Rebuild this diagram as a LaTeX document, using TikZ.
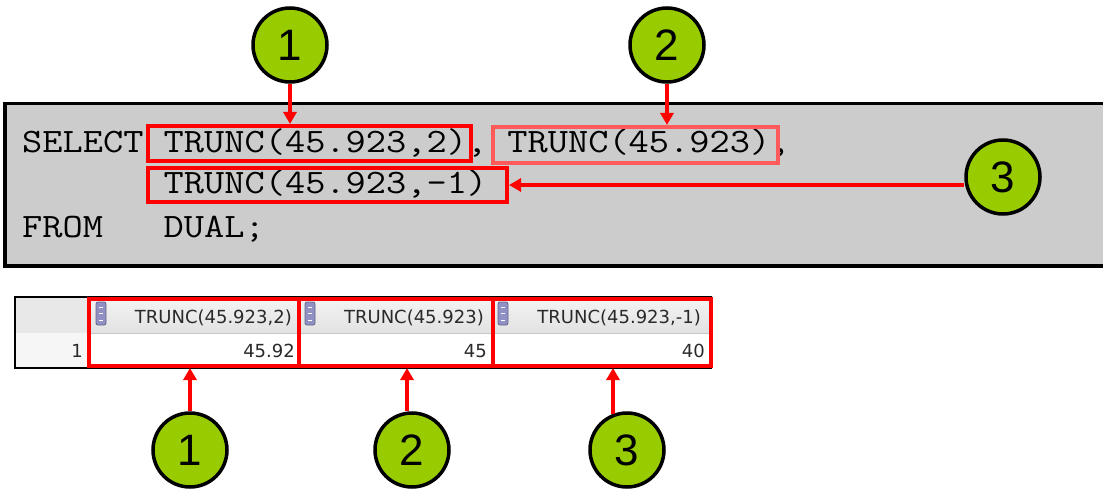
\documentclass[tikz,border=0pt]{standalone}
\usepackage{fontspec}
\setmainfont{Liberation Sans}
\newfontfamily\codefont{Latin Modern Mono}[FakeStretch=1.148]
\newfontfamily\gridfont{DejaVu Sans}
\usetikzlibrary{arrows.meta,calc}
\definecolor{boxgray}{HTML}{CCCCCC}
\definecolor{markgreen}{HTML}{99CC00}
\definecolor{hlred}{HTML}{FF0000}
\definecolor{lightred}{HTML}{FF5A5A}
\definecolor{gridtext}{HTML}{2A2A2A}
\definecolor{rowhdr}{HTML}{E8E8E8}
\definecolor{rownum}{HTML}{F6F6F6}
\definecolor{hdrtop}{HTML}{F4F4F4}
\definecolor{hdrbot}{HTML}{E2E2E2}
\definecolor{iconblue}{HTML}{9090C4}
\tikzset{
  code/.style={anchor=base west, inner sep=0pt, font=\codefont\fontsize{34.2}{40}\selectfont},
  circ/.style={circle, draw=black, line width=3.5pt, fill=markgreen, minimum size=74pt, inner sep=0pt, font=\fontsize{44}{44}\selectfont},
  redbox/.style={draw=hlred, line width=4pt, inner sep=0pt},
  arr/.style={draw=hlred, line width=3.5pt, -{Triangle[width=13pt,length=12pt]}},
  gridhdr/.style={anchor=base east, inner sep=0pt, text=gridtext, font=\gridfont\fontsize{18}{20}\selectfont},
  icon/.style={fill=iconblue, draw=iconblue!70!black, line width=0.8pt, rounded corners=2pt}
}
\begin{document}
\begin{tikzpicture}[x=1pt,y=-1pt]
\useasboundingbox (0,0) rectangle (1103,489);
\fill[white] (0,0) rectangle (1103,489);
% SQL panel
\draw[line width=3.5pt, fill=boxgray] (5,103.5) rectangle (1112,266);
\node[code] (l1) at (22,153) {SELECT TRUNC(45.923,2), TRUNC(45.923),};
\node[code] (l2) at (22,194) {\hphantom{SELECT\ }TRUNC(45.923,-1)};
\node[code] (l3) at (22,237) {FROM\ \ \ DUAL;};
\node[redbox, minimum width=323pt, minimum height=35pt] (b1) at (309.5,143.5) {};
\node[redbox, draw=lightred, minimum width=285pt, minimum height=36pt] (b2) at (635.5,145) {};
\node[redbox, minimum width=359pt, minimum height=34pt] (b3) at (327.5,185) {};
% result grid
\fill[rowhdr] (15,297) rectangle (87,333);
\fill[rownum] (15,333) rectangle (87,368);
\shade[top color=hdrtop, bottom color=hdrbot] (87,297) rectangle (711,333);
\fill[white] (87,333) rectangle (711,368);
\draw[gray!45, line width=1pt] (87,333) -- (711,333);
\draw[black, line width=1.5pt] (15,297) rectangle (711,368);
\foreach \ix in {96,305,498}{
  \draw[icon] (\ix,302) rectangle ++(10,23);
  \draw[white, line width=0.9pt] (\ix+3,307) -- ++(4,0) (\ix+3,313.5) -- ++(4,0) (\ix+3,320) -- ++(4,0);
}
\node[gridhdr] (h1) at (292,323) {TRUNC(45.923,2)};
\node[gridhdr] (h2) at (484,323) {TRUNC(45.923)};
\node[gridhdr] (h3) at (701,323) {TRUNC(45.923,-1)};
\node[gridhdr] (r1) at (83,357) {1};
\node[gridhdr] (v1) at (295,357) {45.92};
\node[gridhdr] (v2) at (487,357) {45};
\node[gridhdr] (v3) at (705,357) {40};
\node[redbox, minimum width=210pt, minimum height=67pt] (t1) at (194,332.5) {};
\node[redbox, minimum width=194pt, minimum height=67pt] (t2) at (396,332.5) {};
\node[redbox, minimum width=218pt, minimum height=67pt] (t3) at (602,332.5) {};
% markers
\node[circ] (c1) at (290,45) {1};
\node[circ] (c2) at (667,45) {2};
\node[circ] (c3) at (1003,177) {3};
\node[circ] (d1) at (190,450) {1};
\node[circ] (d2) at (412,450) {2};
\node[circ] (d3) at (627,450) {3};
% connectors
\draw[arr] (c1.south) -- (c1.south |- b1.north);
\draw[arr] (c2.south) -- (c2.south |- b2.north);
\draw[arr] (b3.east -| c3.west) -- (b3.east);
\draw[arr] (d1.north) -- (d1.north |- t1.south);
\draw[arr] ([xshift=-5pt]d2.north) -- ([xshift=-5pt]d2.north |- t2.south);
\draw[arr] ([xshift=-14pt,yshift=-2.5pt]d3.north) -- ([xshift=-14pt]d3.north |- t3.south);
\end{tikzpicture}
\end{document}
